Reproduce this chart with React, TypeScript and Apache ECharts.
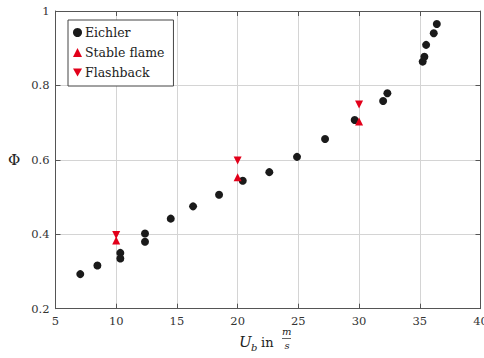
import React, { useEffect, useRef } from "react";
import * as echarts from "echarts";

const eichlerU = [7.04, 8.45, 10.34, 10.34, 12.37, 12.37, 14.49, 16.33, 18.47, 20.42, 22.61, 24.89, 27.2, 29.64, 31.98, 32.33, 35.24, 35.38, 35.52, 36.15, 36.4];
const eichlerPhi = [0.293, 0.316, 0.35, 0.335, 0.402, 0.38, 0.442, 0.475, 0.506, 0.544, 0.567, 0.608, 0.656, 0.707, 0.758, 0.779, 0.864, 0.877, 0.909, 0.94, 0.965];
const stableU = [10, 20, 30];
const stablePhi = [0.383, 0.553, 0.703];
const flashU = [10, 20, 30];
const flashPhi = [0.398, 0.598, 0.749];
const xTicks = { min: 5, max: 40, interval: 5 };
const yTicks = { min: 0.2, max: 1, interval: 0.2 };

const FONT = "DejaVu Serif";
const RED = "#e2001a";
const DOWN = "path://M0,0 L10,0 L5,9 Z";

export default function App() {
  const ref = useRef<HTMLDivElement>(null);
  useEffect(() => {
    const chart = echarts.init(ref.current!, null, { renderer: "svg" });
    const zip = (a: number[], b: number[]) => a.map((v, i) => [v, b[i]]);
    const axisCommon = {
      type: "value" as const,
      axisLine: { show: true, lineStyle: { color: "#555", width: 1 } },
      axisTick: { show: true, inside: true, length: 5, lineStyle: { color: "#555" } },
    };
    chart.setOption({
      animation: false,
      grid: { left: 55.5, right: 3.5, top: 11, bottom: 49.3, outerBoundsMode: "none" },
      xAxis: [
        {
          ...axisCommon,
          ...xTicks,
          position: "bottom",
          axisLabel: { color: "#333", fontFamily: FONT, fontSize: 11.5, margin: 6 },
          splitLine: { show: true, lineStyle: { color: "#d4d4d4", width: 1 } },
        },
        {
          ...axisCommon,
          ...xTicks,
          position: "top",
          axisLabel: { show: false },
          splitLine: { show: false },
        },
      ],
      yAxis: [
        {
          ...axisCommon,
          ...yTicks,
          position: "left",
          axisLabel: { color: "#333", fontFamily: FONT, fontSize: 11.5, margin: 6, formatter: (v: number) => String(Math.round(v * 10) / 10) },
          splitLine: { show: true, lineStyle: { color: "#d4d4d4", width: 1 } },
        },
        {
          ...axisCommon,
          ...yTicks,
          position: "right",
          axisLabel: { show: false },
          splitLine: { show: false },
        },
      ],
      legend: {
        orient: "vertical",
        left: 68,
        top: 20,
        padding: [6, 9, 7, 5],
        itemGap: 7,
        itemWidth: 9,
        itemHeight: 9,
        borderColor: "#444",
        borderWidth: 1,
        borderRadius: 0,
        backgroundColor: "#fff",
        textStyle: { fontFamily: FONT, fontSize: 12.5, color: "#222", padding: [0, 0, 0, -2] },
        data: [
          { name: "Eichler", icon: "circle" },
          { name: "Stable flame", icon: "triangle" },
          { name: "Flashback", icon: DOWN },
        ],
      },
      series: [
        {
          name: "Eichler",
          type: "scatter",
          data: zip(eichlerU, eichlerPhi),
          symbol: "circle",
          symbolSize: 8,
          itemStyle: { color: "#1a1a1a", opacity: 1 },
        },
        {
          name: "Stable flame",
          type: "scatter",
          data: zip(stableU, stablePhi),
          symbol: "triangle",
          symbolSize: 8,
          itemStyle: { color: RED, opacity: 1 },
        },
        {
          name: "Flashback",
          type: "scatter",
          data: zip(flashU, flashPhi),
          symbol: DOWN,
          symbolSize: 8,
          itemStyle: { color: RED, opacity: 1 },
        },
      ],
      graphic: [
        { type: "text", left: 8, top: 152, style: { text: "Φ", fontFamily: FONT, fontSize: 15, fill: "#222" } },
        { type: "text", left: 239, top: 334, style: { text: "U", fontFamily: FONT, fontStyle: "italic", fontSize: 15, fill: "#222" } },
        { type: "text", left: 251, top: 342, style: { text: "b", fontFamily: FONT, fontStyle: "italic", fontSize: 10, fill: "#222" } },
        { type: "text", left: 261, top: 336, style: { text: "in", fontFamily: FONT, fontSize: 13, fill: "#222" } },
        { type: "text", left: 282, top: 326, style: { text: "m", fontFamily: FONT, fontStyle: "italic", fontSize: 10, fill: "#222" } },
        { type: "line", shape: { x1: 282, y1: 338.5, x2: 291, y2: 338.5 }, style: { stroke: "#222", lineWidth: 0.7 } },
        { type: "text", left: 284.5, top: 340, style: { text: "s", fontFamily: FONT, fontStyle: "italic", fontSize: 10, fill: "#222" } },
      ],
    });
    return () => chart.dispose();
  }, []);
  return <div ref={ref} style={{ width: 484, height: 358, position: "absolute", left: 0, top: 0 }} />;
}
